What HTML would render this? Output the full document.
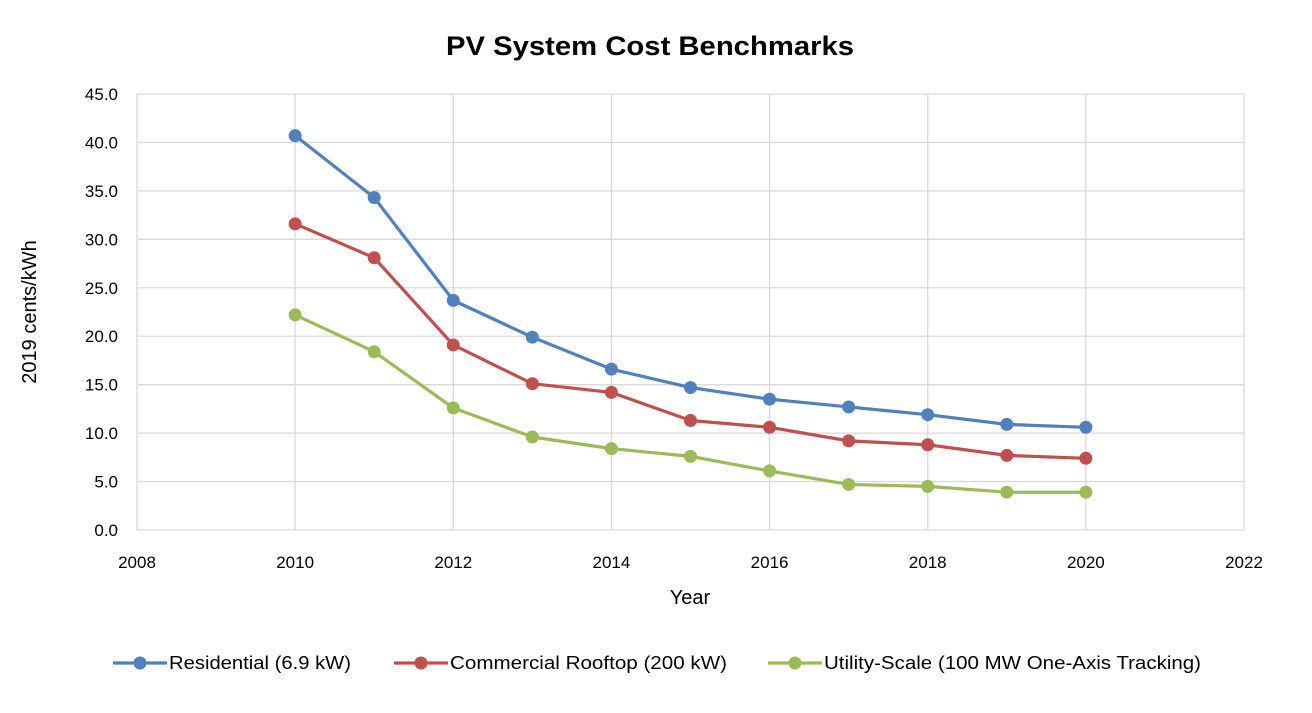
<!DOCTYPE html>
<html><head><meta charset="utf-8"><style>
body{margin:0;background:#fff;}
svg text{font-family:"Liberation Sans",sans-serif;fill:#000;}
</style></head><body>
<svg id="chart" width="1312" height="708" xmlns="http://www.w3.org/2000/svg">
<text x="446" y="55" font-size="27" font-weight="bold" textLength="408" lengthAdjust="spacingAndGlyphs">PV System Cost Benchmarks</text>
<g id="grid"></g><g id="series"></g>
<text x="690" y="604" text-anchor="middle" font-size="20">Year</text>
<text transform="translate(36,312) rotate(-90)" text-anchor="middle" font-size="20">2019 cents/kWh</text>
<g id="legend"></g>
</svg>
<script>
const years=[2010,2011,2012,2013,2014,2015,2016,2017,2018,2019,2020];
const residential=[40.7,34.3,23.7,19.9,16.6,14.7,13.5,12.7,11.9,10.9,10.6];
const commercial=[31.6,28.1,19.1,15.1,14.2,11.3,10.6,9.2,8.8,7.7,7.4];
const utility=[22.2,18.4,12.6,9.6,8.4,7.6,6.1,4.7,4.5,3.9,3.9];
const xTicks=[2008,2010,2012,2014,2016,2018,2020,2022];
const yTicks=[0,5,10,15,20,25,30,35,40,45];
const seriesNames=["Residential (6.9 kW)","Commercial Rooftop (200 kW)","Utility-Scale (100 MW One-Axis Tracking)"];
const colors=["#4F81BD","#C0504D","#9BBB59"];
const NS="http://www.w3.org/2000/svg";
const X0=137,X1=1244,Y0=530,Y1=94;
const xs=v=>X0+(v-2008)/14*(X1-X0);
const ys=v=>Y0-v/45*(Y0-Y1);
function mk(tag,attrs,parent){const e=document.createElementNS(NS,tag);for(const k in attrs)e.setAttribute(k,attrs[k]);parent.appendChild(e);return e;}
const grid=document.getElementById('grid');
yTicks.forEach(t=>{
 const l=mk('line',{x1:X0,x2:X1,y1:ys(t),y2:ys(t),stroke:'#d9d9d9','stroke-width':1.3},grid);
 
 
 const tx=mk('text',{x:118,y:ys(t)+6,'text-anchor':'end','font-size':17},grid);tx.textContent=t.toFixed(1);
 
 
});
xTicks.forEach(t=>{
 const l=mk('line',{x1:xs(t),x2:xs(t),y1:Y1,y2:Y0,stroke:'#d9d9d9','stroke-width':1.3},grid);
 
 
 const tx=mk('text',{x:xs(t),y:568,'text-anchor':'middle','font-size':17},grid);tx.textContent=t;
 
 
});
const sg=document.getElementById('series');
[residential,commercial,utility].forEach((vals,i)=>{
 const pts=vals.map((v,j)=>xs(years[j])+','+ys(v)).join(' ');
 const pl=mk('polyline',{points:pts,fill:'none',stroke:colors[i],'stroke-width':3.2,'stroke-linejoin':'round'},sg);
 
 
 vals.forEach((v,j)=>{
  const c=mk('circle',{cx:xs(years[j]),cy:ys(v),r:6.5,fill:colors[i]},sg);
  
  
 });
});
const lg=document.getElementById('legend');
const lx=[113,394,768];
const lw=[182,277,377];
seriesNames.forEach((n,i)=>{
 const g=mk('g',{},lg);
 
 
 mk('line',{x1:lx[i],x2:lx[i]+54,y1:663,y2:663,stroke:colors[i],'stroke-width':3.2},g);
 mk('circle',{cx:lx[i]+27,cy:663,r:6.5,fill:colors[i]},g);
 const t=mk('text',{x:lx[i]+56,y:669,'font-size':18,textLength:lw[i],lengthAdjust:'spacingAndGlyphs'},g);t.textContent=n;
});
</script>
</body></html>
